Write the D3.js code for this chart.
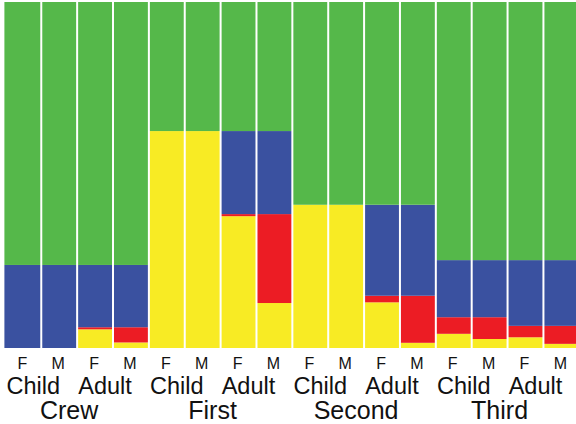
<!DOCTYPE html>
<html>
<head>
<meta charset="utf-8">
<script src="https://cdn.jsdelivr.net/npm/d3@7"></script>
<style>
  html, body { margin: 0; padding: 0; background: #fff; }
  svg { display: block; }
  text { font-family: "Liberation Sans", Arial, Helvetica, sans-serif; fill: #111; }
</style>
</head>
<body>
<svg id="chart" width="576" height="424"></svg>
<script>
// ---- data (percent of column height, stacked bottom -> top) ----
const classes = ["Crew", "First", "Second", "Third"];
const ages = ["Child", "Adult"];
const sexes = ["F", "M"];
// column order: class > age > sex
const yellowVals = [0, 0, 5.4, 1.6,   62.7, 62.7, 38.1, 13.0,   41.4, 41.4, 13.2, 1.5,   4.1, 2.6, 3.1, 1.2];
const redVals    = [0, 0, 0.6, 4.4,   0, 0, 0.6, 25.7,          0, 0, 1.9, 13.6,         4.8, 6.3, 3.3, 5.2];
const blueVals   = [24.0, 24.0, 18.0, 18.0,  0, 0, 24.0, 24.0,  0, 0, 26.3, 26.3,        16.5, 16.5, 19.0, 19.0];
const greenVals  = [76.0, 76.0, 76.0, 76.0,  37.3, 37.3, 37.3, 37.3,  58.6, 58.6, 58.6, 58.6,  74.6, 74.6, 74.6, 74.6];

const seriesKeys = ["yellow", "red", "blue", "green"];
const colors = { yellow: "#f8eb24", red: "#ec1c24", blue: "#3a51a0", green: "#55b84a" };

// build table
const cols = [];
classes.forEach(c => ages.forEach(a => sexes.forEach(s => cols.push({ cls: c, age: a, sex: s }))));
cols.forEach((d, i) => {
  d.key = d.cls + "|" + d.age + "|" + d.sex;
  d.yellow = yellowVals[i]; d.red = redVals[i]; d.blue = blueVals[i]; d.green = greenVals[i];
});

const svg = d3.select("#chart");
const x0 = 5.4, x1 = 579.3, yTop = 2, yBot = 348;

const x = d3.scaleBand().domain(cols.map(d => d.key)).range([x0, x1]).padding(0);
const y = d3.scaleLinear().domain([0, 100]).range([yBot, yTop]);

const stack = d3.stack().keys(seriesKeys);
const stacked = stack(cols);

svg.append("g").selectAll("g")
  .data(stacked).join("g")
  .attr("fill", s => colors[s.key])
  .selectAll("rect")
  .data(s => s).join("rect")
  .attr("x", d => x(d.data.key) - (d.data.key === cols[0].key ? 1 : 0))
  .attr("width", d => x.bandwidth() + (d.data.key === cols[0].key ? 1 : 0))
  .attr("y", d => y(d[1]))
  .attr("height", d => Math.max(0, y(d[0]) - y(d[1])));

// white separators between columns
svg.append("g").selectAll("line")
  .data(cols.slice(1)).join("line")
  .attr("x1", d => x(d.key)).attr("x2", d => x(d.key))
  .attr("y1", yTop).attr("y2", yBot)
  .attr("stroke", "#ffffff").attr("stroke-width", 2);

// labels
const bw = x.bandwidth();
svg.append("g").selectAll("text")
  .data(cols).join("text")
  .attr("x", d => x(d.key) + bw / 2 - 1)
  .attr("y", 368.5)
  .attr("text-anchor", "middle")
  .attr("font-size", 16)
  .text(d => d.sex);

const ageGroups = [];
classes.forEach(c => ages.forEach(a => ageGroups.push({ cls: c, age: a })));
svg.append("g").selectAll("text")
  .data(ageGroups).join("text")
  .attr("x", d => {
    const k1 = d.cls + "|" + d.age + "|F", k2 = d.cls + "|" + d.age + "|M";
    return (x(k1) + x(k2) + bw) / 2 - 8;
  })
  .attr("y", 394)
  .attr("text-anchor", "middle")
  .attr("font-size", 23.5)
  .text(d => d.age);

svg.append("g").selectAll("text")
  .data(classes).join("text")
  .attr("x", c => (x(c + "|Child|F") + x(c + "|Adult|M") + bw) / 2 - 8)
  .attr("y", 419)
  .attr("text-anchor", "middle")
  .attr("font-size", 25)
  .text(c => c);
</script>
</body>
</html>
